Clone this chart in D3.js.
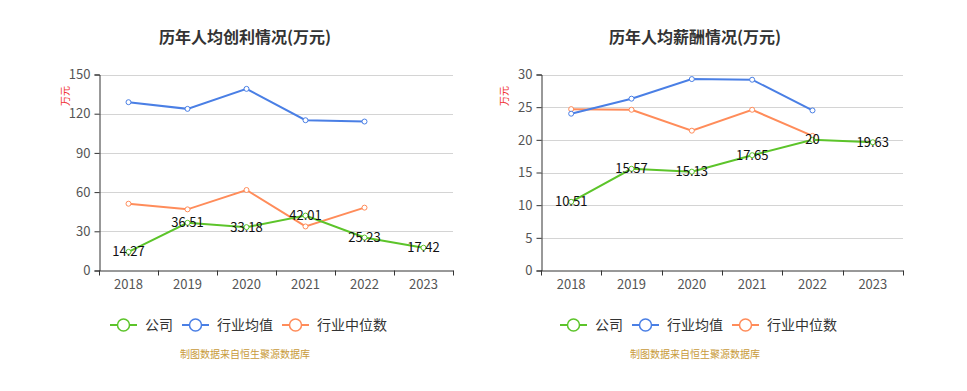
<!DOCTYPE html>
<html>
<head>
<meta charset="utf-8">
<script src="https://cdn.jsdelivr.net/npm/d3@7"></script>
<style>
body { margin: 0; background: #fff; }
svg text { font-family: "Noto Sans CJK SC", "Noto Sans", sans-serif; }
</style>
</head>
<body>
<div id="chart"></div>
<script>
var years = ["2018", "2019", "2020", "2021", "2022", "2023"];

// 历年人均创利
var profitCompany = [14.27, 36.51, 33.18, 42.01, 25.23, 17.42];
var profitIndustryAvg = [128.8, 123.7, 139.0, 115.0, 114.0];
var profitIndustryMedian = [51.1, 46.8, 61.6, 33.7, 48.1];
var profitTicks = [0, 30, 60, 90, 120, 150];

// 历年人均薪酬
var salaryCompany = [10.51, 15.57, 15.13, 17.65, 20, 19.63];
var salaryIndustryAvg = [24.0, 26.3, 29.3, 29.2, 24.5];
var salaryIndustryMedian = [24.7, 24.6, 21.4, 24.6, 20.6];
var salaryTicks = [0, 5, 10, 15, 20, 25, 30];

var seriesNames = ["公司", "行业均值", "行业中位数"];
var colors = ["#5cc42a", "#4a7fe5", "#ff8c5a"];

var w = 967;
var h = 391;

var svg = d3.select("div#chart")
    .append("svg")
    .attr("width", w)
    .attr("height", h);

function drawChart(opt){
    var g = svg.append("g");

    var x = d3.scaleBand()
        .domain(years)
        .range([opt.left, opt.right]);

    var y = d3.scaleLinear()
        .domain([0, d3.max(opt.ticks)])
        .range([270.5, 74.5]);

    // title
    g.append("text")
        .attr("x", opt.titleX)
        .attr("y", 43)
        .attr("text-anchor", "middle")
        .style("font-size", "16px")
        .style("font-weight", "bold")
        .attr("fill", "#333")
        .text(opt.title);

    // grid
    g.selectAll(".grid")
        .data(opt.ticks.slice(1))
        .enter()
        .append("line")
        .attr("x1", opt.left)
        .attr("x2", opt.right)
        .attr("y1", function(d){ return Math.round(y(d)) + 0.5; })
        .attr("y2", function(d){ return Math.round(y(d)) + 0.5; })
        .attr("stroke", "#d4d4d4")
        .attr("stroke-width", 1);

    // y axis
    var yAxis = d3.axisLeft(y).tickValues(opt.ticks).tickSize(5).tickPadding(4);
    var ya = g.append("g")
        .attr("transform", "translate(" + (Math.round(opt.left) + 0.5) + ",0)")
        .call(yAxis);
    ya.select(".domain").attr("stroke", "#333");
    ya.selectAll(".tick line").attr("stroke", "#333");
    ya.selectAll("text").style("font-size", "13px").attr("fill", "#555");

    // unit
    g.append("text")
        .attr("transform", "translate(" + opt.unitX + ",96) rotate(-90)")
        .attr("text-anchor", "middle")
        .style("font-size", "10px")
        .attr("fill", "#f03030")
        .text("万元");

    // x axis
    var xAxis = d3.axisBottom(x).tickSize(0).tickPadding(9);
    var xa = g.append("g")
        .attr("transform", "translate(0,270.5)")
        .call(xAxis);
    xa.select(".domain").attr("stroke", "#333");
    xa.selectAll("text").style("font-size", "13px").attr("fill", "#555");

    var bounds = years.map(function(d){ return x(d); }).concat([opt.right]);
    g.selectAll(".xtick")
        .data(bounds)
        .enter()
        .append("line")
        .attr("x1", function(d){ return Math.round(d) + 0.5; })
        .attr("x2", function(d){ return Math.round(d) + 0.5; })
        .attr("y1", 270.5)
        .attr("y2", 275.5)
        .attr("stroke", "#333");

    var cx = function(d, i){ return x(years[i]) + x.bandwidth() / 2; };

    var line = d3.line()
        .x(cx)
        .y(function(d){ return y(d); });

    var series = [opt.median, opt.avg, opt.company];
    var seriesColors = [colors[2], colors[1], colors[0]];

    series.forEach(function(s, k){
        g.append("path")
            .datum(s)
            .attr("d", line)
            .attr("fill", "none")
            .attr("stroke", seriesColors[k])
            .attr("stroke-width", 2);

        g.selectAll(".pt" + k)
            .data(s)
            .enter()
            .append("circle")
            .attr("cx", cx)
            .attr("cy", function(d){ return y(d); })
            .attr("r", 2.5)
            .attr("fill", "#fff")
            .attr("stroke", seriesColors[k])
            .attr("stroke-width", 1);
    });

    // labels
    g.selectAll(".lbl")
        .data(opt.company)
        .enter()
        .append("text")
        .attr("x", cx)
        .attr("y", function(d){ return y(d); })
        .attr("dy", "0.35em")
        .attr("text-anchor", "middle")
        .style("font-size", "13px")
        .attr("fill", "#111")
        .text(function(d){ return d; });

    // legend
    var legX = opt.legendX;
    var legOffsets = [0, 72, 172];
    seriesNames.forEach(function(name, i){
        var lx = legX + legOffsets[i];
        g.append("line")
            .attr("x1", lx).attr("x2", lx + 27)
            .attr("y1", 325).attr("y2", 325)
            .attr("stroke", colors[i])
            .attr("stroke-width", 2);
        g.append("circle")
            .attr("cx", lx + 13.5).attr("cy", 325)
            .attr("r", 6)
            .attr("fill", "#fff")
            .attr("stroke", colors[i])
            .attr("stroke-width", 1.5);
        g.append("text")
            .attr("x", lx + 35)
            .attr("y", 325)
            .attr("dy", "0.35em")
            .style("font-size", "14px")
            .attr("fill", "#333")
            .text(name);
    });

    // source
    g.append("text")
        .attr("x", opt.titleX)
        .attr("y", 358)
        .attr("text-anchor", "middle")
        .style("font-size", "10px")
        .attr("fill", "#c89a3a")
        .text("制图数据来自恒生聚源数据库");
}

drawChart({
    title: "历年人均创利情况(万元)",
    titleX: 245,
    left: 99,
    right: 453,
    unitX: 69,
    ticks: profitTicks,
    company: profitCompany,
    avg: profitIndustryAvg,
    median: profitIndustryMedian,
    legendX: 110
});

drawChart({
    title: "历年人均薪酬情况(万元)",
    titleX: 695,
    left: 541,
    right: 903,
    unitX: 508,
    ticks: salaryTicks,
    company: salaryCompany,
    avg: salaryIndustryAvg,
    median: salaryIndustryMedian,
    legendX: 560
});
</script>
</body>
</html>
